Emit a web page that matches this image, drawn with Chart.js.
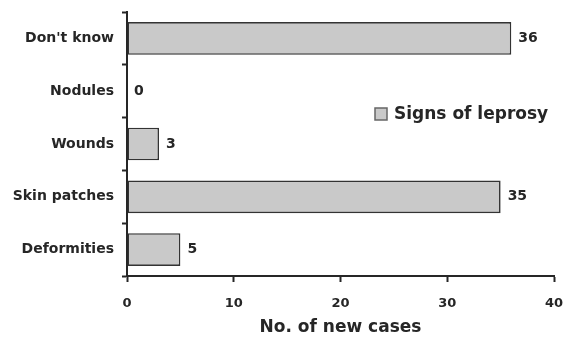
<!DOCTYPE html>
<html>
<head>
<meta charset="utf-8">
<script src="https://cdn.jsdelivr.net/npm/chart.js@4/dist/chart.umd.min.js"></script>
<style>
  html, body { margin: 0; padding: 0; background: #fff; }
  #wrap { width: 564px; height: 339px; }
</style>
</head>
<body>
<div id="wrap"><canvas id="c" width="564" height="339"></canvas></div>
<script>
const categories = ["Don't know", "Nodules", "Wounds", "Skin patches", "Deformities"];
const newCases = [36, 0, 3, 35, 5];
const seriesName = "Signs of leprosy";
const xTicks = [0, 10, 20, 30, 40];

const FONT = "'DejaVu Sans', Verdana, sans-serif";
const INK = '#262626';

// value printed just past the end of each bar
const valueLabels = {
  id: 'valueLabels',
  afterDatasetsDraw(chart) {
    const ctx = chart.ctx;
    const meta = chart.getDatasetMeta(0);
    ctx.save();
    ctx.font = 'bold 14px ' + FONT;
    ctx.fillStyle = INK;
    ctx.textAlign = 'left';
    ctx.textBaseline = 'middle';
    meta.data.forEach((bar, i) => {
      ctx.fillText(String(newCases[i]), bar.x + 7, bar.y);
    });
    ctx.restore();
  }
};

// legend placed inside the plot area
const insideLegend = {
  id: 'insideLegend',
  afterDraw(chart) {
    const ctx = chart.ctx;
    const ds = chart.data.datasets[0];
    const x = 375, y = 108;
    ctx.save();
    ctx.fillStyle = ds.backgroundColor;
    ctx.strokeStyle = '#666';
    ctx.lineWidth = 1.5;
    ctx.fillRect(x, y, 12, 12);
    ctx.strokeRect(x, y, 12, 12);
    ctx.font = 'bold 17px ' + FONT;
    ctx.fillStyle = INK;
    ctx.textBaseline = 'middle';
    ctx.fillText(ds.label, x + 19, y + 7);
    ctx.restore();
  }
};

new Chart(document.getElementById('c'), {
  type: 'bar',
  data: {
    labels: categories,
    datasets: [{
      label: seriesName,
      data: newCases,
      backgroundColor: '#c9c9c9',
      borderColor: '#333333',
      borderWidth: 1.6,
      borderSkipped: false,
      categoryPercentage: 1,
      barPercentage: 0.62
    }]
  },
  options: {
    indexAxis: 'y',
    responsive: false,
    animation: false,
    devicePixelRatio: 1,
    layout: { padding: { top: 12, right: 10, left: 0, bottom: 0 } },
    plugins: { legend: { display: false }, tooltip: { enabled: false } },
    scales: {
      x: {
        min: 0, max: 40,
        afterBuildTicks(scale) { scale.ticks = xTicks.map(v => ({ value: v })); },
        afterFit(scale) { scale.height = 63; scale.paddingRight = 0; scale.paddingLeft = 0; },
        grid: { display: true, drawOnChartArea: false, drawTicks: true, tickLength: 6, color: INK, tickWidth: 2 },
        border: { display: true, color: INK, width: 2 },
        ticks: { color: INK, font: { family: FONT, size: 13, weight: 'bold' }, padding: 14, maxRotation: 0 },
        title: { display: true, text: 'No. of new cases', color: INK, font: { family: FONT, size: 17, weight: 'bold' }, padding: { top: 0, bottom: 1 } }
      },
      y: {
        afterFit(scale) { scale.width = 127; scale.paddingTop = 0; scale.paddingBottom = 0; },
        grid: { display: true, offset: true, drawOnChartArea: false, drawTicks: true, tickLength: 5, color: INK, tickWidth: 2 },
        border: { display: true, color: INK, width: 2 },
        ticks: { color: INK, font: { family: FONT, size: 14, weight: 'bold' }, padding: 8 }
      }
    }
  },
  plugins: [valueLabels, insideLegend]
});
</script>
</body>
</html>
